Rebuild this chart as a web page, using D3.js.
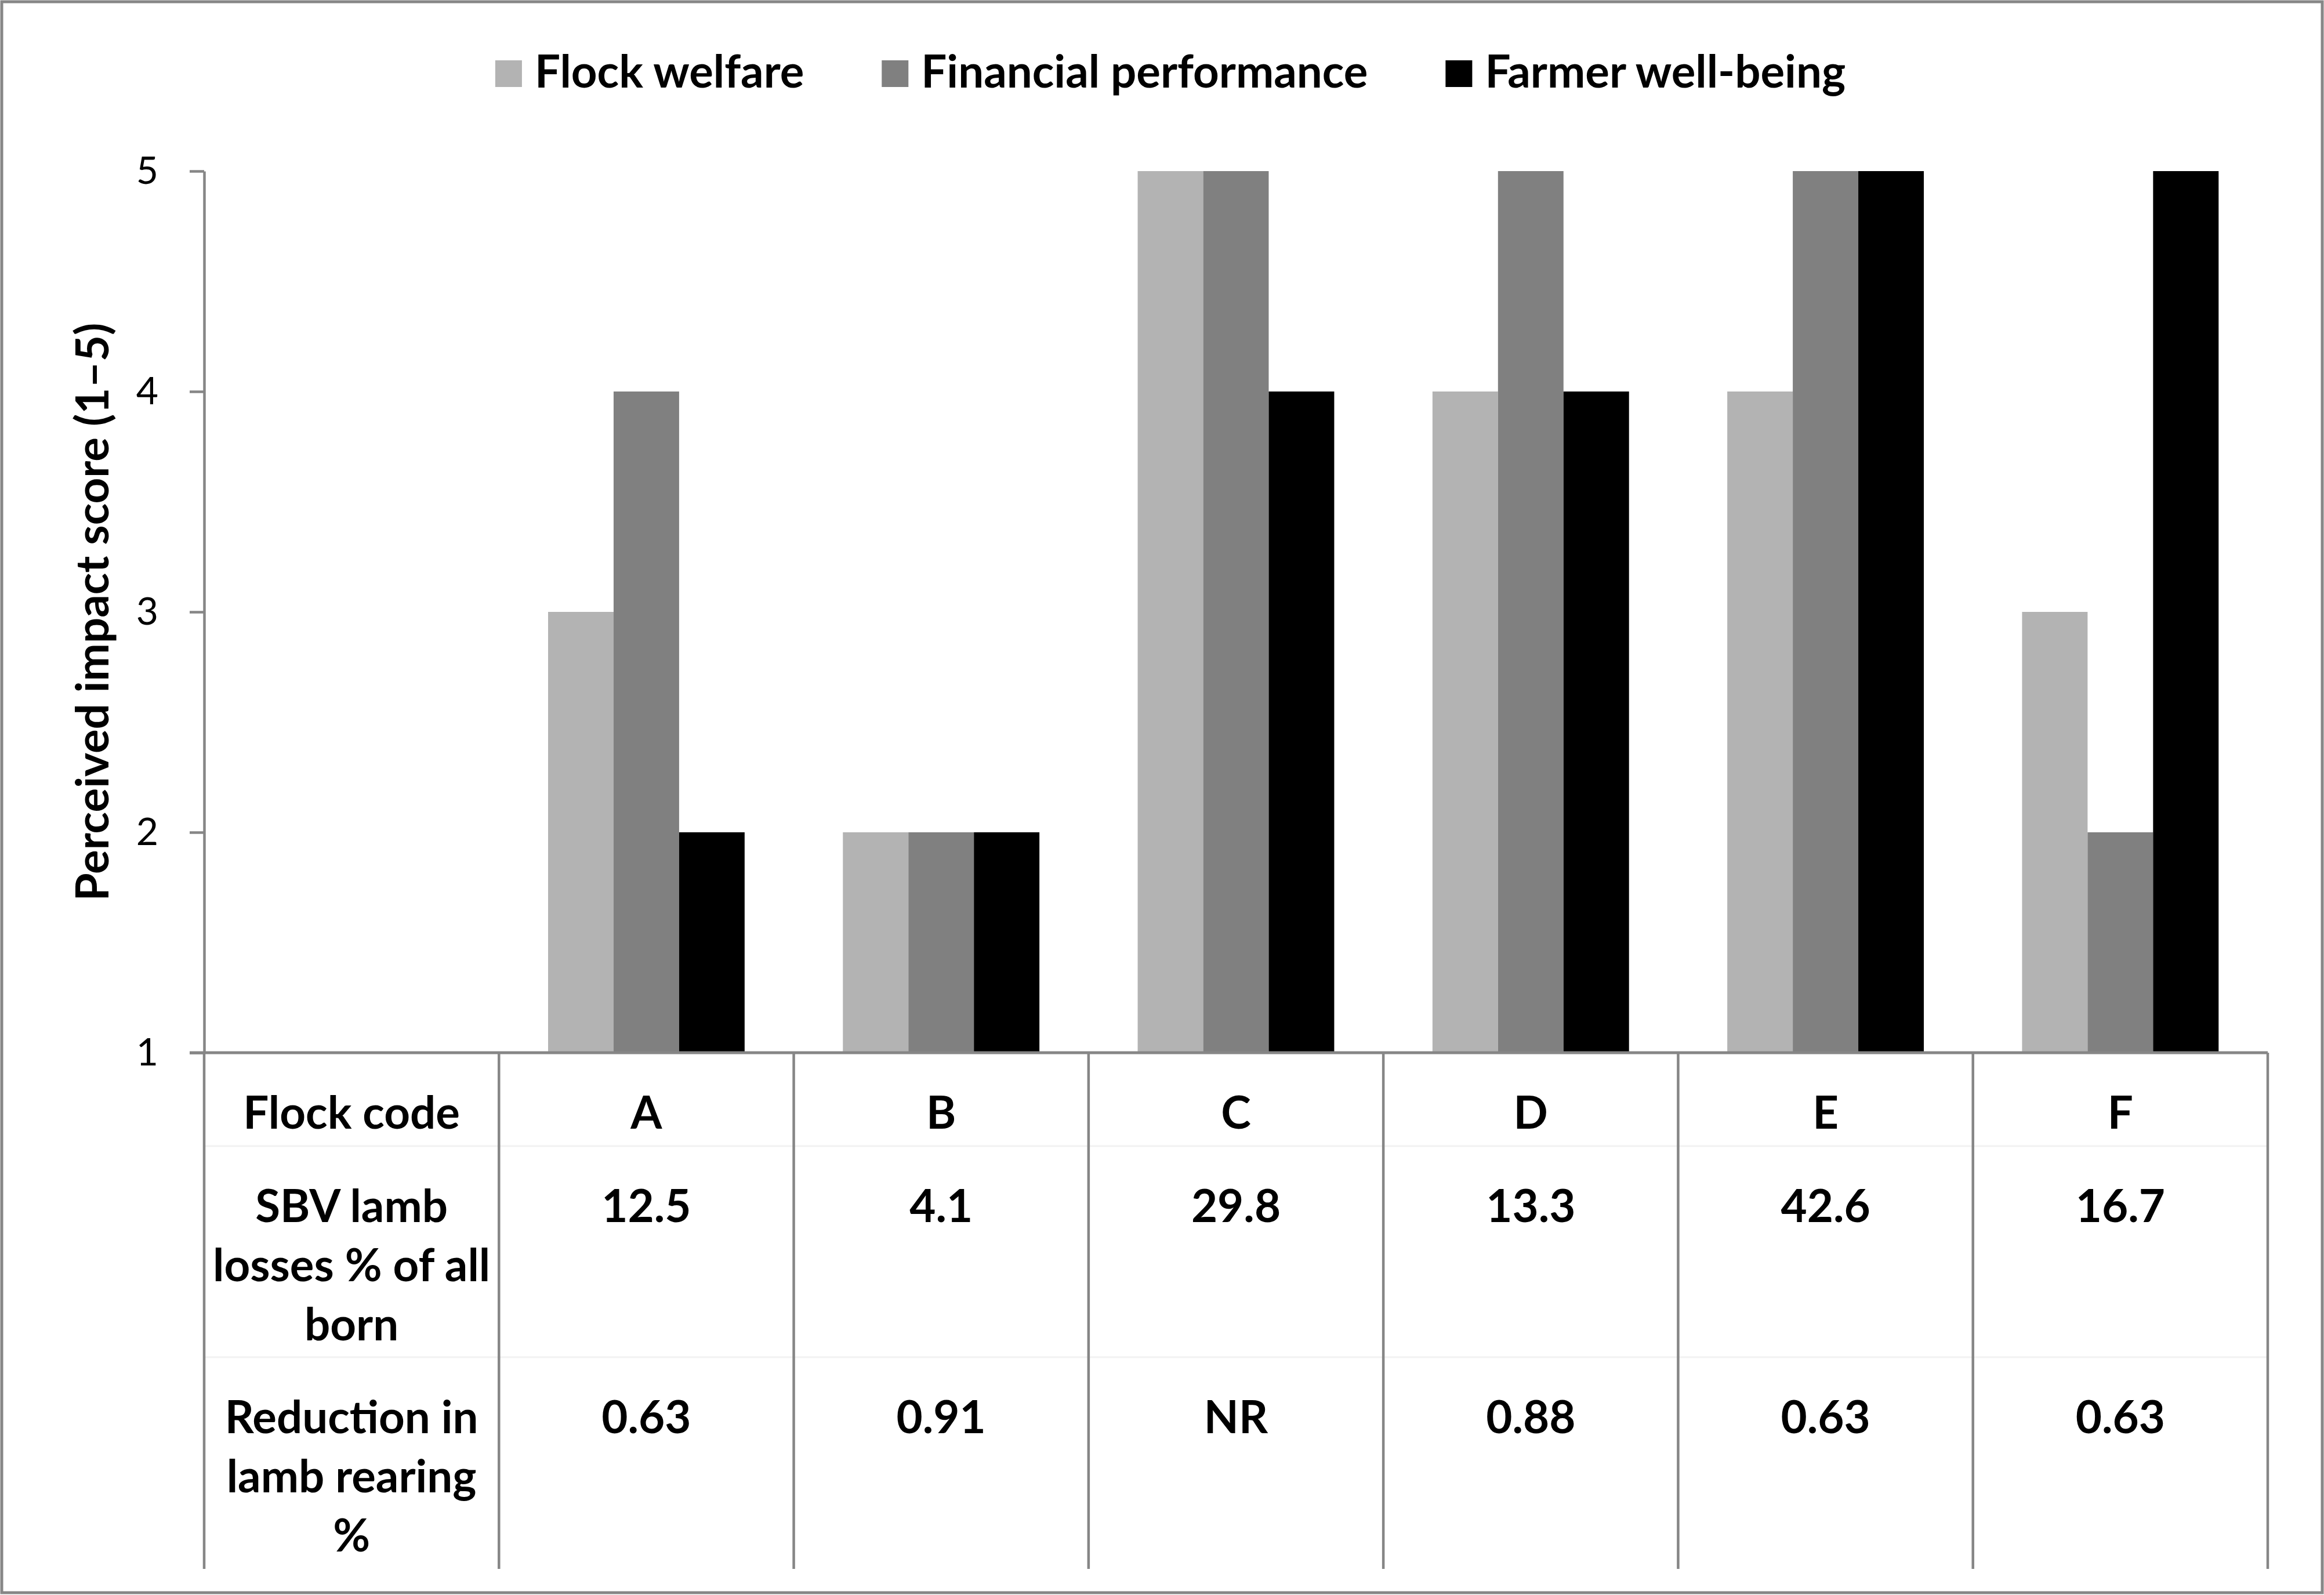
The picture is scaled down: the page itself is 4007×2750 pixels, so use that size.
<!DOCTYPE html>
<html>
<head>
<meta charset="utf-8">
<script src="https://cdn.jsdelivr.net/npm/d3@7"></script>
<style>
  body { margin: 0; background: #fff; }
  svg { display: block; font-family: Lato, "Open Sans", sans-serif; }
</style>
</head>
<body>
<div id="chart"></div>
<script>
// data
const flocks = ["A", "B", "C", "D", "E", "F"];
const seriesNames = ["Flock welfare", "Financial performance", "Farmer well-being"];
const flockWelfare = [3, 2, 5, 4, 4, 3];
const financialPerformance = [4, 2, 5, 5, 5, 2];
const farmerWellBeing = [2, 2, 4, 4, 5, 5];
const lambLosses = ["12.5", "4.1", "29.8", "13.3", "42.6", "16.7"];
const rearingReduction = ["0.63", "0.91", "NR", "0.88", "0.63", "0.63"];
const rowLabels = [
  ["Flock code"],
  ["SBV lamb", "losses % of all", "born"],
  ["Reduction in", "lamb rearing", "%"]
];
const yTicks = [1, 2, 3, 4, 5];
const colors = ["#b3b3b3", "#808080", "#000000"];

const W = 4007, H = 2750;
const lineColor = "#868686";
const boldSize = 78;

const svg = d3
  .select("#chart")
  .append("svg")
  .attr("width", W)
  .attr("height", H);

svg.append("rect").attr("width", W).attr("height", H).attr("fill", "#fff");

// chart border
svg
  .append("rect")
  .attr("x", 3)
  .attr("y", 3)
  .attr("width", W - 6)
  .attr("height", H - 7)
  .attr("fill", "none")
  .attr("stroke", lineColor)
  .attr("stroke-width", 5);

// scales
const x = d3
  .scaleBand()
  .domain(["", ...flocks])
  .range([352, 3910]);

const xSub = d3
  .scaleBand()
  .domain(seriesNames)
  .range([0, x.bandwidth()])
  .paddingOuter(0.75);

const y = d3.scaleLinear().domain([1, 5]).range([1815, 295]);

const tableBottom = 2705;
const rowTops = [1815, 1976, 2340];

// bars
const values = [flockWelfare, financialPerformance, farmerWellBeing];
const barData = [];
flocks.forEach((f, i) => {
  seriesNames.forEach((s, j) => {
    barData.push({ flock: f, series: s, value: values[j][i], color: colors[j] });
  });
});

svg
  .selectAll(".bar")
  .data(barData)
  .enter()
  .append("rect")
  .attr("class", "bar")
  .attr("x", (d) => x(d.flock) + xSub(d.series))
  .attr("width", xSub.bandwidth())
  .attr("y", (d) => y(d.value))
  .attr("height", (d) => y(1) - y(d.value))
  .attr("fill", (d) => d.color);

// faint row separators of the data table
svg
  .selectAll(".rowline")
  .data(rowTops.slice(1))
  .enter()
  .append("line")
  .attr("x1", x.range()[0])
  .attr("x2", x.range()[1])
  .attr("y1", (d) => d)
  .attr("y2", (d) => d)
  .attr("stroke", "#f2f2f2")
  .attr("stroke-width", 3);

// table column lines
const colEdges = x.domain().map((d) => x(d)).concat([x.range()[1]]);
svg
  .selectAll(".colline")
  .data(colEdges)
  .enter()
  .append("line")
  .attr("x1", (d) => d)
  .attr("x2", (d) => d)
  .attr("y1", y(1))
  .attr("y2", tableBottom)
  .attr("stroke", lineColor)
  .attr("stroke-width", 4.5);

// horizontal axis line
svg
  .append("line")
  .attr("x1", x.range()[0] - 25)
  .attr("x2", x.range()[1])
  .attr("y1", y(1))
  .attr("y2", y(1))
  .attr("stroke", lineColor)
  .attr("stroke-width", 5);

// y axis
const yAxis = svg
  .append("g")
  .attr("transform", "translate(" + x.range()[0] + ",0)")
  .call(
    d3
      .axisLeft(y)
      .tickValues(yTicks)
      .tickFormat(d3.format("d"))
      .tickSizeInner(25)
      .tickSizeOuter(0)
      .tickPadding(54)
  );
yAxis.select(".domain").attr("stroke", lineColor).attr("stroke-width", 4.5);
yAxis.selectAll(".tick line").attr("stroke", lineColor).attr("stroke-width", 4.5);
yAxis
  .selectAll(".tick text")
  .attr("fill", "#000")
  .style("font-family", "Lato, sans-serif")
  .style("font-size", "66px");

// y axis title
svg
  .append("text")
  .attr("transform", "translate(187," + y(3) + ") rotate(-90)")
  .attr("text-anchor", "middle")
  .style("font-size", boldSize + "px")
  .style("font-weight", "bold")
  .text("Perceived impact score (1\u20135)");

// table text
const lineStep = 102;
const firstBaseline = 131;
const labelCx = x("") + x.bandwidth() / 2;

rowLabels.forEach((lines, r) => {
  svg
    .append("g")
    .selectAll("text")
    .data(lines)
    .enter()
    .append("text")
    .attr("x", labelCx)
    .attr("y", (d, k) => rowTops[r] + firstBaseline + k * lineStep)
    .attr("text-anchor", "middle")
    .style("font-size", boldSize + "px")
    .style("font-weight", "bold")
    .text((d) => d);
});

const rowValues = [flocks, lambLosses, rearingReduction];
rowValues.forEach((vals, r) => {
  svg
    .append("g")
    .selectAll("text")
    .data(vals)
    .enter()
    .append("text")
    .attr("x", (d, i) => x(flocks[i]) + x.bandwidth() / 2)
    .attr("y", rowTops[r] + firstBaseline)
    .attr("text-anchor", "middle")
    .style("font-size", boldSize + "px")
    .style("font-weight", "bold")
    .text((d) => d);
});

// legend
const legend = svg.append("g");
let lx = 0;
seriesNames.forEach((s, i) => {
  const item = legend.append("g").attr("transform", "translate(" + lx + ",0)");
  item
    .append("rect")
    .attr("x", 0)
    .attr("y", 104)
    .attr("width", 46)
    .attr("height", 46)
    .attr("fill", colors[i]);
  const t = item
    .append("text")
    .attr("x", 68)
    .attr("y", 151)
    .style("font-size", boldSize + "px")
    .style("font-weight", "bold")
    .text(s);
  lx += 68 + t.node().getComputedTextLength() + 134;
});
const legendWidth = lx - 134;
legend.attr("transform", "translate(" + (2018 - legendWidth / 2) + ",0)");
</script>
</body>
</html>
